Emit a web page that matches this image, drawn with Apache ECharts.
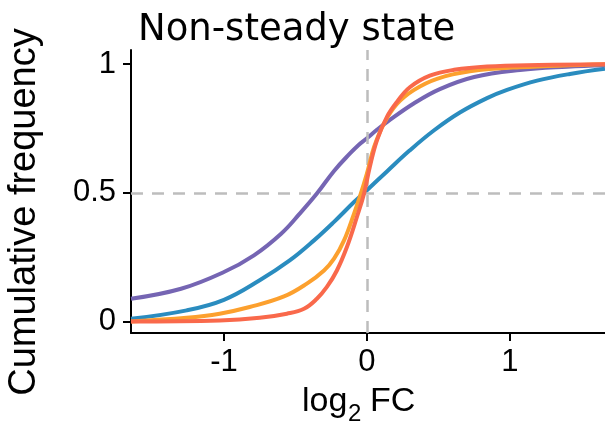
<!DOCTYPE html>
<html><head><meta charset="utf-8">
<script src="https://cdn.jsdelivr.net/npm/echarts@6/dist/echarts.min.js"></script>
<style>html,body{margin:0;padding:0;background:#fff}#c{width:605px;height:427px}</style>
</head><body><div id="c"></div>
<script>
const xTicks = [-1, 0, 1];
const yTicks = [0, 0.5, 1];
const seriesNames = ['blue', 'purple', 'orange', 'red'];
const purpleX = [-1.65, -1.3, -1.0, -0.79, -0.6, -0.47, -0.35, -0.23, -0.12, -0.06, 0, 0.07, 0.14, 0.33, 0.51, 0.75, 1.07, 1.4, 1.665];
const purpleY = [0.088, 0.127, 0.192, 0.257, 0.341, 0.419, 0.497, 0.585, 0.652, 0.685, 0.712, 0.745, 0.775, 0.848, 0.903, 0.950, 0.977, 0.99, 0.996];
const blueX = [-1.65, -1.26, -1.0, -0.75, -0.54, -0.37, -0.23, -0.09, 0, 0.14, 0.3, 0.47, 0.65, 0.84, 0.98, 1.19, 1.42, 1.665];
const blueY = [0.010, 0.043, 0.084, 0.160, 0.237, 0.315, 0.387, 0.464, 0.510, 0.583, 0.665, 0.743, 0.812, 0.868, 0.900, 0.936, 0.962, 0.982];
const orangeX = [-1.65, -1.26, -1.03, -0.82, -0.58, -0.42, -0.30, -0.23, -0.16, -0.09, -0.05, 0, 0.05, 0.12, 0.21, 0.33, 0.49, 0.72, 1.07, 1.665];
const orangeY = [0.0, 0.014, 0.030, 0.056, 0.097, 0.147, 0.198, 0.244, 0.315, 0.419, 0.484, 0.575, 0.678, 0.770, 0.845, 0.900, 0.943, 0.972, 0.988, 1.0];
const redX = [-1.65, -1.03, -0.75, -0.56, -0.44, -0.35, -0.28, -0.21, -0.14, -0.07, -0.02, 0.02, 0.07, 0.14, 0.21, 0.30, 0.44, 0.61, 0.84, 1.2, 1.665];
const redY = [0.0, 0.004, 0.014, 0.030, 0.049, 0.088, 0.134, 0.198, 0.289, 0.406, 0.497, 0.600, 0.704, 0.795, 0.853, 0.910, 0.955, 0.978, 0.991, 0.997, 1.0];
const colors = {purple: '#7565b3', blue: '#2a8cbf', orange: '#fca02e', red: '#f9694b'};

const zip = (xs, ys) => xs.map((x, i) => [x, ys[i]]);
const dataMap = {purple: zip(purpleX, purpleY), blue: zip(blueX, blueY), orange: zip(orangeX, orangeY), red: zip(redX, redY)};

const chart = echarts.init(document.getElementById('c'), null, {renderer: 'canvas'});
const lineSeries = seriesNames.map((n, i) => ({
  type: 'line', name: n, data: dataMap[n], showSymbol: false, smooth: 0.4,
  lineStyle: {color: colors[n], width: 4}, z: 3 + i, clip: true
}));
chart.setOption({
  animation: false,
  grid: {left: 131, right: 0, top: 50, bottom: 94},
  xAxis: {
    type: 'value', min: -1.65, max: 1.665,
    axisLine: {show: true, onZero: false, lineStyle: {color: '#000', width: 2}},
    axisTick: {show: true, length: 8, lineStyle: {color: '#000', width: 2}, customValues: xTicks},
    axisLabel: {customValues: xTicks, color: '#000', fontSize: 31, fontFamily: 'Liberation Sans', margin: 14},
    splitLine: {show: false}
  },
  yAxis: {
    type: 'value', min: -0.045, max: 1.055,
    axisLine: {show: true, onZero: false, lineStyle: {color: '#000', width: 2}},
    axisTick: {show: true, length: 8, lineStyle: {color: '#000', width: 2}, customValues: yTicks},
    axisLabel: {customValues: yTicks, color: '#000', fontSize: 31, fontFamily: 'Liberation Sans', margin: 15},
    splitLine: {show: false}
  },
  series: [{
    type: 'line', data: [], z: 1, silent: true,
    markLine: {
      silent: true, symbol: 'none', label: {show: false},
      lineStyle: {color: '#bdbdbd', width: 2.5, type: [12, 9]},
      data: [{xAxis: 0}, {yAxis: 0.5}]
    }
  }].concat(lineSeries),
  graphic: [
    {type: 'text', left: 138, top: 12, style: {text: 'Non-steady state', font: '37px "DejaVu Sans"', fill: '#000'}},
    {type: 'text', x: 25, y: 212, rotation: Math.PI / 2,
      style: {text: 'Cumulative frequency', font: '38px "Liberation Sans"', fill: '#000', align: 'center', verticalAlign: 'middle'}},
    {type: 'text', x: 302, y: 402, style: {text: 'log', font: '34px "Liberation Sans"', fill: '#000', align: 'left', verticalAlign: 'middle'}},
    {type: 'text', x: 348, y: 414, style: {text: '2', font: '24px "Liberation Sans"', fill: '#000', align: 'left', verticalAlign: 'middle'}},
    {type: 'text', x: 370, y: 402, style: {text: 'FC', font: '34px "Liberation Sans"', fill: '#000', align: 'left', verticalAlign: 'middle'}}
  ]
});
</script></body></html>
